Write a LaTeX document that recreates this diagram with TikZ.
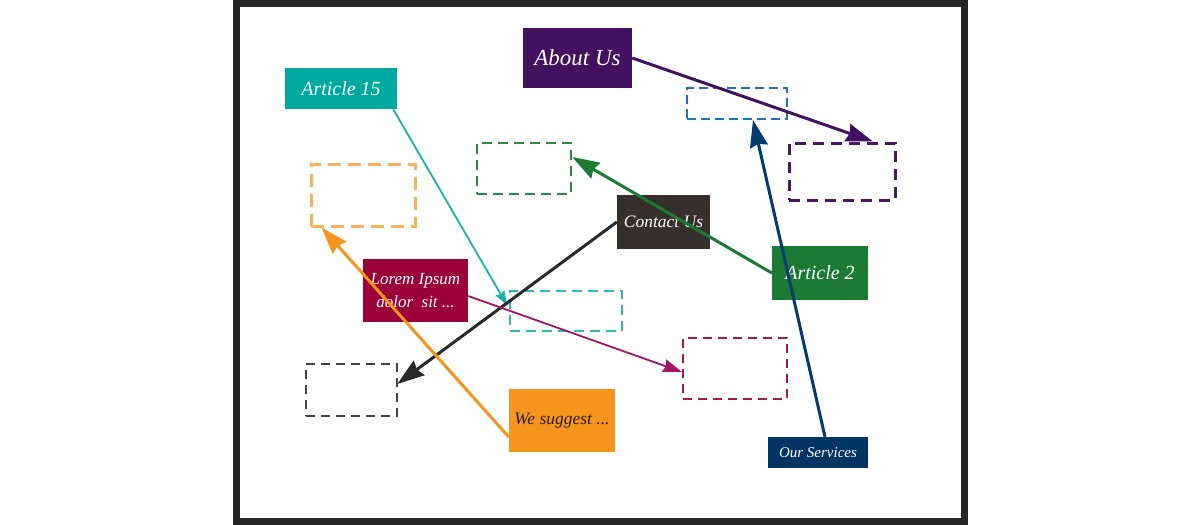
\documentclass[tikz,border=0pt]{standalone}
\usepackage{fontspec}
\setmainfont{Liberation Serif}
\usetikzlibrary{arrows.meta,calc}
\definecolor{framec}{HTML}{262626}
\definecolor{aboutc}{HTML}{441060}
\definecolor{art15c}{HTML}{00A99D}
\definecolor{contactc}{HTML}{372F2C}
\definecolor{art2c}{HTML}{1B7B34}
\definecolor{loremc}{HTML}{9B0039}
\definecolor{suggestc}{HTML}{F7941E}
\definecolor{servc}{HTML}{003463}
\definecolor{dorange}{HTML}{FFAE5A}
\definecolor{dgreen}{HTML}{23903F}
\definecolor{dblue}{HTML}{1C75BC}
\definecolor{dpurple}{HTML}{4B1668}
\definecolor{dteal}{HTML}{2BBBAD}
\definecolor{dgray}{HTML}{444444}
\definecolor{dcrimson}{HTML}{A7194B}
\definecolor{lmagenta}{HTML}{A01565}
\definecolor{lteal}{HTML}{1BB3A8}
\definecolor{lnavy}{HTML}{003B73}
\definecolor{lblack}{HTML}{2A2A2A}
\definecolor{suggesttext}{HTML}{2B1E10}
\begin{document}
\begin{tikzpicture}[x=1pt,y=-1pt,
  solidbox/.style={rectangle,inner sep=0pt,draw=none,text=white,font=\itshape},
  dbox/.style={rectangle,inner sep=0pt,draw,dashed},
  conn/.style={line width=3pt,-{Stealth[length=27pt,width=18pt,inset=2.5pt]}},
  thinconn/.style={line width=1.8pt,-{Stealth[length=19pt,width=13pt,inset=2pt]}},
  tealconn/.style={line width=1.8pt,-{Stealth[length=14pt,width=10pt,inset=1.5pt]}}]
\useasboundingbox (0,0) rectangle (1200,525);
% frame
\draw[framec,line width=7pt] (236.5,3.5) rectangle (964,521.5);
% solid nodes
\node[solidbox,fill=aboutc,minimum width=109pt,minimum height=60pt,font=\itshape\fontsize{23}{26}\selectfont] (about) at (577.5,58) {About Us};
\node[solidbox,fill=art15c,minimum width=112pt,minimum height=41pt,font=\itshape\fontsize{20}{24}\selectfont] (a15) at (341,88.5) {Article 15};
\node[solidbox,fill=contactc,minimum width=93pt,minimum height=54pt,font=\itshape\fontsize{17.5}{21}\selectfont] (contact) at (663.5,222) {Contact Us};
\node[solidbox,fill=art2c,minimum width=96pt,minimum height=54pt,font=\itshape\fontsize{20}{24}\selectfont] (a2) at (820,273) {Article 2};
\node[solidbox,fill=loremc,minimum width=105pt,minimum height=63pt,align=center,font=\itshape\fontsize{17}{23}\selectfont] (lorem) at (415.5,290.5) {Lorem Ipsum\\dolor\ \ sit ...};
\node[solidbox,fill=suggestc,text=suggesttext,minimum width=106pt,minimum height=63pt,font=\itshape\fontsize{17.5}{21}\selectfont] (suggest) at (562,420.5) {We suggest ...};
\node[solidbox,fill=servc,minimum width=100pt,minimum height=31pt,font=\itshape\fontsize{15}{18}\selectfont] (serv) at (818,452.5) {Our Services};
% dashed target boxes
\node[dbox,draw=dorange,line width=3pt,dash pattern=on 13pt off 7pt,minimum width=104pt,minimum height=62pt] (dor) at (363,195) {};
\node[dbox,draw=dgreen,line width=2.5pt,dash pattern=on 10pt off 6pt,minimum width=94pt,minimum height=51pt] (dgr) at (524,168.5) {};
\node[dbox,draw=dblue,line width=2pt,dash pattern=on 9pt off 5pt,minimum width=100pt,minimum height=31pt] (dbl) at (737,103.5) {};
\node[dbox,draw=dpurple,line width=3pt,dash pattern=on 11pt off 7pt,minimum width=106pt,minimum height=57pt] (dpu) at (842,171.5) {};
\node[dbox,draw=dteal,line width=2pt,dash pattern=on 10pt off 6pt,minimum width=112pt,minimum height=40pt] (dte) at (566,311) {};
\node[dbox,draw=dgray,line width=2.5pt,dash pattern=on 9pt off 6pt,minimum width=91pt,minimum height=52pt] (dga) at (351.5,390) {};
\node[dbox,draw=dcrimson,line width=2pt,dash pattern=on 9pt off 6pt,minimum width=104pt,minimum height=61pt] (dcr) at (735,368.5) {};
% connectors
\draw[conn,draw=aboutc,fill=aboutc] (about.east) -- ([xshift=31pt]dpu.north);
\draw[tealconn,draw=lteal,fill=lteal] ([xshift=-4pt]a15.south east) -- ([yshift=6pt,xshift=-2pt]dte.west);
\draw[conn,draw=lblack,fill=lblack] (contact.west) -- ([yshift=6pt,xshift=-1pt]dga.east);
\draw[conn,draw=art2c,fill=art2c] (a2.west) -- ([yshift=11.5pt]dgr.east);
\draw[thinconn,draw=lmagenta,fill=lmagenta] ([yshift=-5.5pt]lorem.east) -- ([yshift=-3.5pt]dcr.west);
\draw[conn,draw=suggestc,fill=suggestc] ([yshift=-16.5pt]suggest.west) -- ([xshift=12pt]dor.south west);
\draw[conn,draw=lnavy,fill=lnavy] ([xshift=7pt]serv.north) -- ([xshift=16pt]dbl.south);
\end{tikzpicture}
\end{document}
